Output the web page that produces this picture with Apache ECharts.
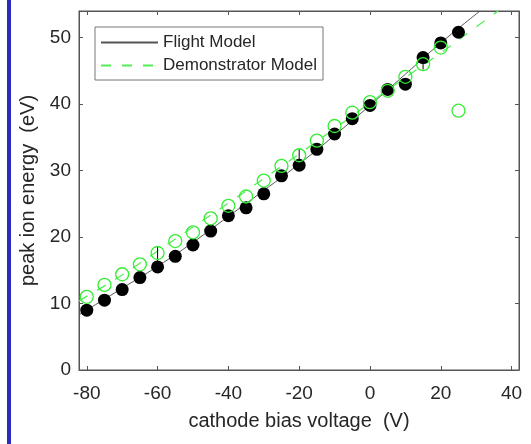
<!DOCTYPE html>
<html>
<head>
<meta charset="utf-8">
<script src="https://cdn.jsdelivr.net/npm/echarts@6/dist/echarts.min.js"></script>
<style>
  html, body { margin: 0; padding: 0; background: #fff; }
  #chart { width: 531px; height: 444px; }
</style>
</head>
<body>
<div id="chart"></div>
<script>
// measured points
var voltage = [-80, -75, -70, -65, -60, -55, -50, -45, -40, -35, -30, -25, -20, -15, -10, -5, 0, 5, 10, 15, 20, 25];
var flightModel = [9.0, 10.5, 12.1, 13.9, 15.5, 17.1, 18.8, 20.9, 23.2, 24.4, 26.5, 29.2, 30.8, 33.2, 35.5, 37.8, 39.8, 42.2, 43.0, 47.0, 49.2, 50.8];
var demoModel = [11.0, 12.8, 14.4, 15.9, 17.6, 19.4, 20.7, 22.8, 24.7, 26.1, 28.5, 30.7, 32.3, 34.5, 36.7, 38.7, 40.3, 42.0, 44.1, 46.0, 48.5, 39.0];

// fit curves
var flightFitX = [-82.2, -70, -60, -50, -40, -30, -20, -10, 0, 10, 20, 31.1];
var flightFitY = [8.3, 12.3, 15.6, 19.2, 23.1, 27.0, 31.0, 35.3, 39.8, 44.5, 49.2, 54.0];
var demoFitX = [-82.2, -70, -60, -50, -40, -30, -20, -10, 0, 10, 20, 30, 36.2];
var demoFitY = [10.4, 14.3, 17.9, 21.5, 25.1, 28.8, 32.5, 36.3, 40.2, 44.0, 47.7, 51.6, 54.0];

// error bars on flight model [x, low, high]
var errBars = [[-60, 15.5, 18.5], [-20, 30.8, 33.2], [15, 45.2, 47.6]];

var xTicks = [-80, -60, -40, -20, 0, 20, 40];
var yTicks = [0, 10, 20, 30, 40, 50];

function pairs(xs, ys) {
    return xs.map(function (x, i) { return [x, ys[i]]; });
}

var axisCol = '#555';
var textCol = '#262626';
var font = 'Liberation Sans, Arial, sans-serif';

var option = {
    animation: false,
    backgroundColor: '#fff',
    grid: {
        left: 79, right: 12, top: 11, bottom: 74,
        show: true, borderColor: axisCol, borderWidth: 1
    },
    legend: {
        data: ['Flight Model', 'Demonstrator Model'],
        orient: 'vertical',
        left: 95, top: 27,
        padding: [7, 6, 6, 5],
        itemWidth: 57, itemHeight: 14, itemGap: 6,
        itemStyle: { opacity: 0 },
        backgroundColor: '#fff',
        borderColor: '#777', borderWidth: 1,
        textStyle: { fontSize: 17, color: textCol, fontFamily: font }
    },
    graphic: [{
        type: 'rect',
        shape: { x: 7, y: 0, width: 4, height: 444 },
        style: { fill: '#2b2bbf' }
    }],
    xAxis: [{
        type: 'value', min: -82.2, max: 42.1,
        name: 'cathode bias voltage  (V)', nameLocation: 'middle', nameGap: 41,
        nameTextStyle: { fontSize: 20, color: textCol, fontFamily: font },
        axisLine: { show: true, onZero: false, lineStyle: { color: axisCol } },
        axisTick: { show: true, inside: true, length: 4, customValues: xTicks, lineStyle: { color: axisCol } },
        axisLabel: { customValues: xTicks, margin: 14, fontSize: 19, color: textCol, fontFamily: font },
        splitLine: { show: false }
    }, {
        type: 'value', min: -82.2, max: 42.1, position: 'top',
        axisLine: { show: true, onZero: false, lineStyle: { color: axisCol } },
        axisTick: { show: true, inside: true, length: 4, customValues: xTicks, lineStyle: { color: axisCol } },
        axisLabel: { show: false },
        splitLine: { show: false }
    }],
    yAxis: [{
        type: 'value', min: 0, max: 54,
        name: 'peak ion energy  (eV)', nameLocation: 'middle', nameGap: 34,
        nameTextStyle: { fontSize: 20, color: textCol, fontFamily: font },
        axisLine: { show: true, onZero: false, lineStyle: { color: axisCol } },
        axisTick: { show: true, inside: true, length: 4, customValues: yTicks, lineStyle: { color: axisCol } },
        axisLabel: { customValues: yTicks, margin: 8, fontSize: 19, color: textCol, fontFamily: font },
        splitLine: { show: false }
    }, {
        type: 'value', min: 0, max: 54, position: 'right',
        axisLine: { show: true, onZero: false, lineStyle: { color: axisCol } },
        axisTick: { show: true, inside: true, length: 4, customValues: yTicks, lineStyle: { color: axisCol } },
        axisLabel: { show: false },
        splitLine: { show: false }
    }],
    series: [
        {
            name: 'Flight Model',
            type: 'line',
            data: pairs(flightFitX, flightFitY),
            smooth: true,
            symbol: 'none',
            color: '#555',
            lineStyle: { color: '#555', width: 1 },
            z: 2
        },
        {
            name: 'Demonstrator Model',
            type: 'line',
            data: pairs(demoFitX, demoFitY),
            smooth: true,
            symbol: 'none',
            color: '#55ee55',
            lineStyle: { color: '#55ee55', width: 1.3, type: [10, 11] },
            z: 2
        },
        {
            name: 'Flight data',
            type: 'scatter',
            data: pairs(voltage, flightModel),
            symbol: 'circle',
            symbolSize: 13,
            itemStyle: { color: '#000', opacity: 1 },
            z: 3
        },
        {
            name: 'Error',
            type: 'custom',
            data: errBars,
            renderItem: function (params, api) {
                var p1 = api.coord([api.value(0), api.value(1)]);
                var p2 = api.coord([api.value(0), api.value(2)]);
                return {
                    type: 'line',
                    shape: { x1: p1[0], y1: p1[1], x2: p2[0], y2: p2[1] },
                    style: { stroke: '#000', lineWidth: 1 }
                };
            },
            z: 4
        },
        {
            name: 'Demo data',
            type: 'scatter',
            data: pairs(voltage, demoModel),
            symbol: 'circle',
            symbolSize: 13,
            itemStyle: { color: 'rgba(0,0,0,0)', borderColor: '#33ee33', borderWidth: 1.3, opacity: 1 },
            z: 5
        }
    ]
};

var chart = echarts.init(document.getElementById('chart'));
chart.setOption(option);
</script>
</body>
</html>
